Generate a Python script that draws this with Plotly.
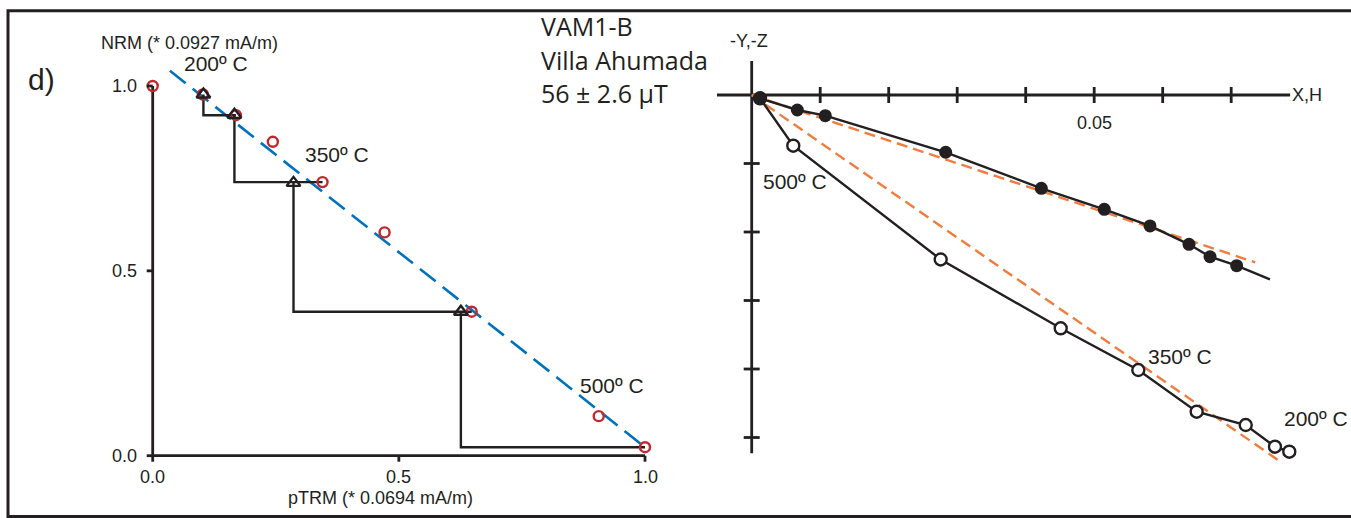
import plotly.graph_objects as go

W, H = 1351, 518

# ---------------- Arai plot (normalised NRM vs pTRM) ----------------
ptrm = [0.0, 0.102, 0.169, 0.244, 0.345, 0.471, 0.648, 0.906, 1.0]
nrm = [1.0, 0.977, 0.921, 0.849, 0.740, 0.604, 0.3895, 0.107, 0.023]

# pTRM checks: triangle position and index of the NRM step it is tied to
check_ptrm = [0.103, 0.166, 0.286, 0.626]
check_nrm = [0.977, 0.922, 0.738, 0.3895]
check_ref = [2, 4, 6, 8]

# best-fit line used for the palaeointensity
fit_ptrm = [0.035, 1.0]
fit_nrm = [1.041, 0.023]

arai_xticks = [0.0, 0.5, 1.0]
arai_xlabels = ["0.0", "0.5", "1.0"]
arai_yticks = [0.0, 0.5, 1.0]
arai_ylabels = ["0.0", "0.5", "1.0"]

# ---------------- Zijderveld diagram ----------------
# horizontal projection (X, -Y), solid symbols
horiz_x = [0.00121, 0.00666, 0.01074, 0.02832, 0.04228, 0.05147, 0.05815, 0.06384, 0.06691, 0.0708]
horiz_y = [-0.00048, -0.00219, -0.00302, -0.00836, -0.01362, -0.01669, -0.01912, -0.0218, -0.02361, -0.02492]
# the polyline continues to the NRM vector
horiz_line_x = horiz_x + [0.07566]
horiz_line_y = horiz_y + [-0.02691]

# vertical projection (H, -Z), open symbols
vert_x = [0.00121, 0.00607, 0.02759, 0.04511, 0.05644, 0.06496, 0.07212, 0.07639, 0.07848]
vert_y = [-0.00048, -0.0074, -0.02401, -0.03406, -0.04015, -0.04623, -0.04818, -0.05134, -0.05207]

# principal component fits through the origin
pca_h_x = [0.0, 0.0735]
pca_h_y = [0.0, -0.02442]
pca_v_x = [0.0, 0.07752]
pca_v_y = [0.0, -0.05377]

zij_xticks = [0.01, 0.02, 0.03, 0.04, 0.05, 0.06, 0.07]
zij_yticks = [-0.01, -0.02, -0.03, -0.04, -0.05]
zij_xlabel_val = 0.05
zij_xlabel = "0.05"
zij_xaxis_span = [-0.00507, 0.0786]
zij_yaxis_span = [0.00496, -0.0523]

INK = "#231f20"
RED = "#c1272d"
BLUE = "#0072bc"
ORANGE = "#f07c3e"
SANS = "Liberation Sans, Arial, sans-serif"
HUMAN = "Open Sans, Noto Sans, sans-serif"


def px_x(p):
    return p / W


def px_y(p):
    return 1 - p / H


def lin_range(d0, d1, p0, p1, q0, q1):
    """data values at pixels q0,q1 given data d0 at pixel p0 and d1 at pixel p1"""
    k = (d1 - d0) / (p1 - p0)
    return [d0 + (q0 - p0) * k, d0 + (q1 - p0) * k]


L_DOM_X = (100, 700)
L_DOM_Y = (490, 40)
R_DOM_X = (705, 1345)
R_DOM_Y = (490, 30)

fig = go.Figure()

# ----- Arai traces -----
fig.add_trace(go.Scatter(x=fit_ptrm, y=fit_nrm, mode="lines", xaxis="x", yaxis="y",
                         line=dict(color=BLUE, width=2.6, dash="20px,9px"), hoverinfo="skip"))
for i, j in enumerate(check_ref):
    fig.add_trace(go.Scatter(
        x=[check_ptrm[i], check_ptrm[i], ptrm[j]],
        y=[check_nrm[i], nrm[j], nrm[j]],
        mode="lines", xaxis="x", yaxis="y",
        line=dict(color=INK, width=2.4), hoverinfo="skip"))
fig.add_trace(go.Scatter(x=ptrm, y=nrm, mode="markers", xaxis="x", yaxis="y", cliponaxis=False,
                         marker=dict(symbol="circle-open", size=10, color=RED, line=dict(width=2.4, color=RED))))
fig.add_trace(go.Scatter(x=check_ptrm, y=check_nrm, mode="markers", xaxis="x", yaxis="y", cliponaxis=False,
                         marker=dict(symbol="triangle-up", size=12, color="rgba(255,255,255,0)",
                                     line=dict(width=2.4, color=INK))))

# ----- Zijderveld traces -----
fig.add_trace(go.Scatter(x=pca_h_x, y=pca_h_y, mode="lines", xaxis="x2", yaxis="y2",
                         line=dict(color=ORANGE, width=2.4, dash="11px,6px"), hoverinfo="skip"))
fig.add_trace(go.Scatter(x=pca_v_x, y=pca_v_y, mode="lines", xaxis="x2", yaxis="y2",
                         line=dict(color=ORANGE, width=2.4, dash="11px,6px"), hoverinfo="skip"))
fig.add_trace(go.Scatter(x=vert_x, y=vert_y, mode="lines+markers", xaxis="x2", yaxis="y2", cliponaxis=False,
                         line=dict(color=INK, width=2.4),
                         marker=dict(symbol="circle", size=12, color="white", line=dict(width=2.4, color=INK))))
fig.add_trace(go.Scatter(x=horiz_line_x, y=horiz_line_y, mode="lines", xaxis="x2", yaxis="y2",
                         line=dict(color=INK, width=2.4), hoverinfo="skip"))
fig.add_trace(go.Scatter(x=horiz_x, y=horiz_y, mode="markers", xaxis="x2", yaxis="y2", cliponaxis=False,
                         marker=dict(symbol="circle", size=13, color=INK, line=dict(width=0))))

shapes = []
# frame
shapes.append(dict(type="rect", xref="paper", yref="paper",
                   x0=px_x(8), x1=px_x(1360), y0=px_y(516.5), y1=px_y(10.7),
                   line=dict(color=INK, width=3), fillcolor="rgba(0,0,0,0)", layer="above"))

# Arai axes
ax = dict(color=INK, width=2.8)
shapes.append(dict(type="line", xref="x", yref="y", x0=0, x1=1, y0=0, y1=0, line=ax, layer="below"))
shapes.append(dict(type="line", xref="x", yref="y", x0=0, x1=0, y0=0, y1=1, line=ax, layer="below"))
for t in arai_xticks:
    shapes.append(dict(type="line", xref="x", yref="y", ysizemode="pixel", yanchor=0,
                       x0=t, x1=t, y0=0, y1=-6, line=ax))
for t in arai_yticks:
    shapes.append(dict(type="line", xref="x", yref="y", xsizemode="pixel", xanchor=0,
                       y0=t, y1=t, x0=0, x1=-6, line=ax))

# Zijderveld axes
shapes.append(dict(type="line", xref="x2", yref="y2", x0=zij_xaxis_span[0], x1=zij_xaxis_span[1],
                   y0=0, y1=0, line=ax, layer="below"))
shapes.append(dict(type="line", xref="x2", yref="y2", y0=zij_yaxis_span[0], y1=zij_yaxis_span[1],
                   x0=0, x1=0, line=ax, layer="below"))
for t in zij_xticks:
    shapes.append(dict(type="line", xref="x2", yref="y2", ysizemode="pixel", yanchor=0,
                       x0=t, x1=t, y0=-8, y1=8, line=ax, layer="below"))
for t in zij_yticks:
    shapes.append(dict(type="line", xref="x2", yref="y2", xsizemode="pixel", xanchor=0,
                       y0=t, y1=t, x0=-8, x1=8, line=ax, layer="below"))

ann = []


def txt(text, x, y, size, font=SANS, xanchor="center", yanchor="middle", **kw):
    d = dict(text=text, x=px_x(x), y=px_y(y), xref="paper", yref="paper", showarrow=False,
             xanchor=xanchor, yanchor=yanchor, font=dict(family=font, size=size, color=INK))
    d.update(kw)
    ann.append(d)


# Arai tick labels
for t, lab in zip(arai_xticks, arai_xlabels):
    ann.append(dict(text=lab, x=t, y=0, xref="x", yref="y", showarrow=False, xanchor="center",
                    yanchor="middle", yshift=-21, font=dict(family=SANS, size=18, color=INK)))
for t, lab in zip(arai_yticks, arai_ylabels):
    ann.append(dict(text=lab, x=0, y=t, xref="x", yref="y", showarrow=False, xanchor="right",
                    yanchor="middle", xshift=-14, font=dict(family=SANS, size=18, color=INK)))

# Zijderveld tick label
ann.append(dict(text=zij_xlabel, x=zij_xlabel_val, y=0, xref="x2", yref="y2", showarrow=False,
                xanchor="center", yanchor="middle", yshift=-28, font=dict(family=SANS, size=18, color=INK)))

txt("NRM (* 0.0927 mA/m)", 189, 43, 18)
txt("pTRM (* 0.0694 mA/m)", 380, 498, 18)
txt("d)", 41, 79, 30)
txt("200º C", 216, 64, 21)
txt("350º C", 337, 154, 21)
txt("500º C", 612, 385, 21)
txt("VAM1-B", 539, 26, 25, font=HUMAN, xanchor="left")
txt("Villa Ahumada", 539, 59.5, 25, font=HUMAN, xanchor="left")
txt("56 ± 2.6 µT", 539, 93, 25, font=HUMAN, xanchor="left")
txt("-Y,-Z", 749.5, 40.5, 18)
txt("X,H", 1290, 95, 18, xanchor="left")
txt("500º C", 795, 181.5, 21)
txt("350º C", 1180, 356.5, 21)
txt("200º C", 1315.5, 418.5, 21)

hidden = dict(visible=False, showgrid=False, zeroline=False, fixedrange=True)
fig.update_layout(
    width=W, height=H, autosize=False,
    margin=dict(l=0, r=0, t=0, b=0),
    paper_bgcolor="white", plot_bgcolor="white",
    showlegend=False,
    xaxis=dict(domain=[px_x(L_DOM_X[0]), px_x(L_DOM_X[1])],
               range=lin_range(0, 1, 152.7, 645, *L_DOM_X), **hidden),
    yaxis=dict(domain=[px_y(L_DOM_Y[0]), px_y(L_DOM_Y[1])],
               range=lin_range(0, 1, 455.7, 86, *L_DOM_Y), **hidden),
    xaxis2=dict(domain=[px_x(R_DOM_X[0]), px_x(R_DOM_X[1])],
                range=lin_range(0, 0.01, 751.7, 820.2, *R_DOM_X), anchor="y2", **hidden),
    yaxis2=dict(domain=[px_y(R_DOM_Y[0]), px_y(R_DOM_Y[1])],
                range=lin_range(0, -0.01, 95, 163.5, *R_DOM_Y), anchor="x2", **hidden),
    shapes=shapes,
    annotations=ann,
)

fig.write_html("out.html")
